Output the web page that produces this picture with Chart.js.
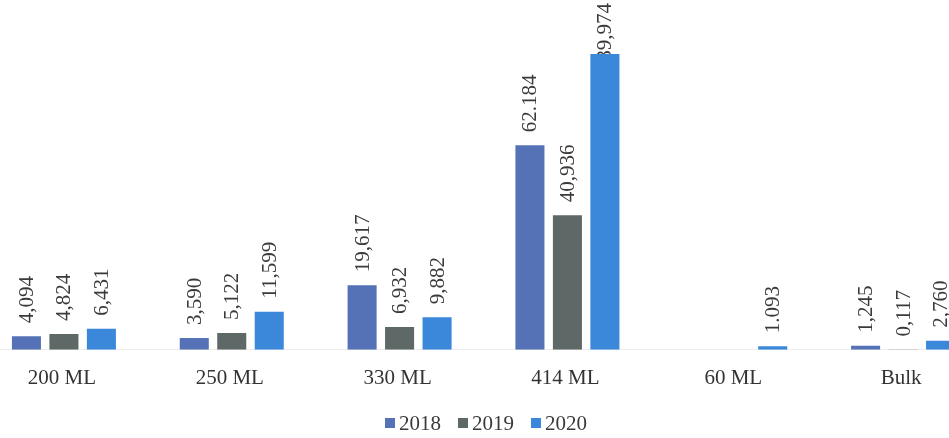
<!DOCTYPE html>
<html>
<head>
<meta charset="utf-8">
<script src="https://cdn.jsdelivr.net/npm/chart.js@4"></script>
<style>
  html, body { margin: 0; padding: 0; background: #fff; overflow: hidden; width: 949px; height: 438px; }
  #wrap { position: absolute; left: -20px; top: 0; width: 1007px; height: 438px; }
</style>
</head>
<body>
<div id="wrap"><canvas id="c" width="1007" height="438"></canvas></div>
<script>
const categories = ['200 ML', '250 ML', '330 ML', '414 ML', '60 ML', 'Bulk'];
const seriesNames = ['2018', '2019', '2020'];
const values2018 = [4.094, 3.590, 19.617, 62.184, null, 1.245];
const values2019 = [4.824, 5.122, 6.932, 40.936, null, 0.117];
const values2020 = [6.431, 11.599, 9.882, 89.974, 1.093, 2.760];
const labels2018 = ['4,094', '3,590', '19,617', '62.184', '', '1,245'];
const labels2019 = ['4,824', '5,122', '6,932', '40,936', '', '0,117'];
const labels2020 = ['6,431', '11,599', '9,882', '89,974', '1.093', '2,760'];

const colors = ['#5572b6', '#5e6967', '#3b87da'];
const FONT = '"Liberation Serif", "Times New Roman", serif';

const valueLabels = {
  id: 'valueLabels',
  beforeDatasetsDraw(chart) {
    const ctx = chart.ctx;
    const all = [labels2018, labels2019, labels2020];
    ctx.save();
    ctx.font = '21px ' + FONT;
    ctx.fillStyle = '#3a3a3a';
    ctx.textAlign = 'left';
    ctx.textBaseline = 'middle';
    chart.data.datasets.forEach((ds, di) => {
      const meta = chart.getDatasetMeta(di);
      meta.data.forEach((bar, i) => {
        const v = ds.data[i];
        const t = all[di][i];
        if (v === null || v === undefined || !t) return;
        const w = ctx.measureText(t).width;
        let start = bar.y - 13;
        if (start - w < 3) start = 3 + w;
        ctx.save();
        ctx.translate(bar.x, start);
        ctx.rotate(-Math.PI / 2);
        ctx.fillText(t, 0, 1);
        ctx.restore();
      });
    });
    ctx.restore();
  }
};

const customLegend = {
  id: 'customLegend',
  afterDraw(chart) {
    const ctx = chart.ctx;
    ctx.save();
    ctx.font = '21px ' + FONT;
    ctx.textBaseline = 'middle';
    ctx.textAlign = 'left';
    const box = 10, gapText = 4, gapItem = 17;
    const items = chart.data.datasets.map(d => ({ text: d.label, color: d.backgroundColor }));
    let total = 0;
    items.forEach((it, k) => {
      it.w = ctx.measureText(it.text).width;
      total += box + gapText + it.w + (k < items.length - 1 ? gapItem : 0);
    });
    const offsetX = 20;
    let x = offsetX + 486 - total / 2;
    const y = 423;
    items.forEach(it => {
      ctx.fillStyle = it.color;
      ctx.fillRect(x, y - box / 2, box, box);
      x += box + gapText;
      ctx.fillStyle = '#3a3a3a';
      ctx.fillText(it.text, x, y + 1);
      x += it.w + gapItem;
    });
    ctx.restore();
  }
};

new Chart(document.getElementById('c'), {
  type: 'bar',
  data: {
    labels: categories,
    datasets: [
      { label: seriesNames[0], data: values2018, backgroundColor: colors[0] },
      { label: seriesNames[1], data: values2019, backgroundColor: colors[1] },
      { label: seriesNames[2], data: values2020, backgroundColor: colors[2] }
    ]
  },
  options: {
    responsive: false,
    animation: false,
    devicePixelRatio: 1,
    categoryPercentage: 0.67,
    barPercentage: 0.775,
    layout: { padding: { top: 21, bottom: 39, left: 0, right: 0 } },
    plugins: {
      legend: { display: false },
      tooltip: { enabled: false }
    },
    scales: {
      x: {
        grid: { display: false },
        border: { display: true, color: '#ededed', width: 1 },
        ticks: {
          color: '#333',
          font: { family: FONT, size: 21 },
          padding: 8,
          labelOffset: -2,
          maxRotation: 0
        }
      },
      y: {
        display: false,
        min: 0,
        max: 100
      }
    }
  },
  plugins: [valueLabels, customLegend]
});
</script>
</body>
</html>
